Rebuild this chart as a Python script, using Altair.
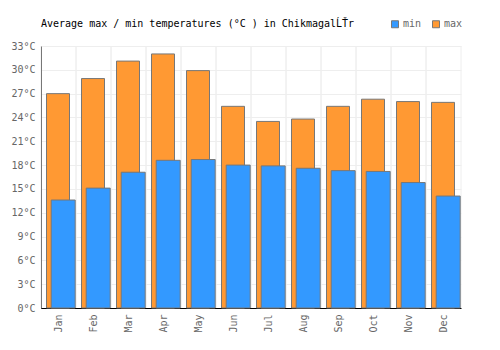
import altair as alt
import pandas as pd

months = ["Jan", "Feb", "Mar", "Apr", "May", "Jun", "Jul", "Aug", "Sep", "Oct", "Nov", "Dec"]
max_t = [27.0, 28.9, 31.1, 32.0, 29.9, 25.4, 23.5, 23.8, 25.4, 26.3, 26.0, 25.9]
min_t = [13.6, 15.1, 17.1, 18.6, 18.7, 18.0, 17.9, 17.6, 17.3, 17.2, 15.8, 14.1]
y_ticks = list(range(0, 34, 3))

df_max = pd.DataFrame({"month": months, "value": max_t, "series": "max"})
df_min = pd.DataFrame({"month": months, "value": min_t, "series": "min"})
df_grid = pd.DataFrame({"month": months})

FONT = "DejaVu Sans Mono"
xsc = alt.Scale(domain=months, paddingInner=0, paddingOuter=0)
ysc = alt.Scale(domain=[0, 33], nice=False)
csc = alt.Scale(domain=["min", "max"], range=["#3399ff", "#ff9933"])

x_axis = alt.Axis(labelAngle=270, labelColor="#666666", labelFont=FONT, labelFontSize=10,
                  ticks=False, grid=False, domainColor="#000000", labelPadding=6, title=None)
y_axis = alt.Axis(values=y_ticks, labelExpr="datum.value + '°C'", labelColor="#666666",
                  labelFont=FONT, labelFontSize=10, ticks=False, gridColor="#eeeeee",
                  domainColor="#000000", labelPadding=6, title=None, labelOverlap=False)

grid_l = alt.Chart(df_grid).mark_rule(color="#eeeeee", xOffset=-17.5).encode(
    x=alt.X("month:N", scale=xsc, axis=x_axis, sort=months))
grid_r = alt.Chart(df_grid).mark_rule(color="#eeeeee", xOffset=17.5).encode(
    x=alt.X("month:N", scale=xsc, axis=x_axis, sort=months))

legend = alt.Legend(title=None, orient="none", legendX=349, legendY=-27, direction="horizontal",
                    symbolType="square", symbolSize=49, symbolStrokeColor="#777777",
                    symbolStrokeWidth=1, labelColor="#666666", labelFont=FONT, labelFontSize=10,
                    columnPadding=8, labelOffset=3, symbolOpacity=1)

bar_max = alt.Chart(df_max).mark_bar(width=23, xOffset=-0.5, stroke="#777777", strokeWidth=1,
                                     opacity=1).encode(
    x=alt.X("month:N", scale=xsc, axis=x_axis, sort=months),
    y=alt.Y("value:Q", scale=ysc, axis=y_axis, stack=None),
    color=alt.Color("series:N", scale=csc, legend=legend),
)
bar_min = alt.Chart(df_min).mark_bar(width=24, xOffset=4.7, stroke="#777777", strokeWidth=1,
                                     opacity=1).encode(
    x=alt.X("month:N", scale=xsc, axis=x_axis, sort=months),
    y=alt.Y("value:Q", scale=ysc, axis=y_axis, stack=None),
    color=alt.Color("series:N", scale=csc, legend=legend),
)

chart = alt.layer(grid_l, grid_r, bar_max, bar_min).properties(
    width=420, height=262,
    padding={"left": 41, "top": 46, "right": 39, "bottom": 42},
    autosize=alt.AutoSizeParams(type="none"),
    title=alt.TitleParams("Average max / min temperatures (°C ) in ChikmagalĹŤr",
                          anchor="start", font=FONT, fontSize=10, fontWeight="normal",
                          color="#000000", offset=-10, frame="group"),
).configure_view(stroke=None)

chart.save("out.html", embed_options={"renderer": "svg", "actions": False})
